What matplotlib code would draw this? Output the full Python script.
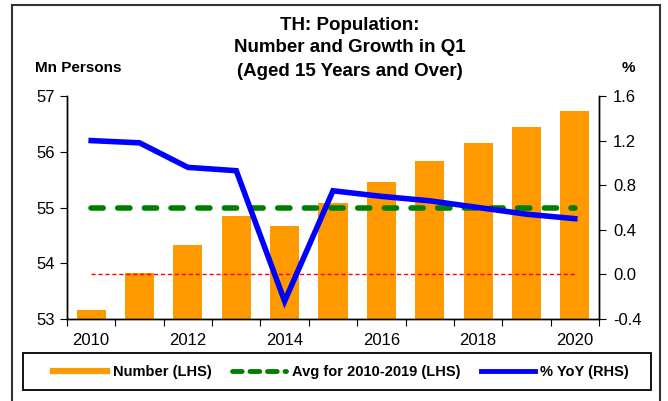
import numpy as np
import matplotlib.pyplot as plt
from matplotlib.lines import Line2D
from matplotlib.patches import Rectangle

plt.rcParams['font.family'] = ['Liberation Sans', 'DejaVu Sans']

years = list(range(2010, 2021))
number = [53.17, 53.82, 54.33, 54.84, 54.67, 55.08, 55.45, 55.83, 56.15, 56.44, 56.73]
avg_2010_2019 = 55.0
yoy = [1.20, 1.18, 0.96, 0.93, -0.24, 0.75, 0.70, 0.66, 0.60, 0.54, 0.50]
tick_years = [2010, 2012, 2014, 2016, 2018, 2020]

W, H = 668, 401
fig = plt.figure(figsize=(W / 100, H / 100), dpi=100)
ax = fig.add_axes([67 / W, 1 - 319 / H, 532 / W, 223 / H])
ax2 = ax.twinx()

x = np.arange(len(years))
ax.bar(x, np.array(number) - 53, bottom=53, width=0.6, color='#FF9900', zorder=2)
ax.plot([x[0], x[-1]], [avg_2010_2019] * 2, color='#008000', lw=4,
        dashes=(2.2, 2.6), dash_capstyle='round', zorder=3)

ax2.plot([x[0], x[-1]], [0, 0], color='#FF0000', lw=1, dashes=(3, 2))
ax2.plot(x, yoy, color='#0000FF', lw=4, solid_joinstyle='miter')

ax.set_xlim(-0.5, len(years) - 0.5)
ax.set_ylim(53, 57)
ax.set_yticks([53, 54, 55, 56, 57])
ax2.set_ylim(-0.4, 1.6)
rhs_ticks = [-0.4, 0.0, 0.4, 0.8, 1.2, 1.6]
ax2.set_yticks(rhs_ticks)
ax2.set_yticklabels(['%.1f' % v for v in rhs_ticks])

ax.set_xticks(np.arange(-0.5, len(years), 1))
ax.set_xticklabels([])
ax.set_xticks([years.index(y) for y in tick_years], minor=True)
ax.set_xticklabels([str(y) for y in tick_years], minor=True)
ax.tick_params(axis='x', which='minor', length=0, labelsize=12, pad=10)
ax.tick_params(axis='x', which='major', length=5, direction='out')
ax.tick_params(axis='y', labelsize=12, length=5, direction='out', pad=4)
ax2.tick_params(axis='y', labelsize=12, length=5, direction='out', pad=5)

for a in (ax, ax2):
    a.spines['top'].set_visible(False)
    for s in ('left', 'right', 'bottom'):
        a.spines[s].set_linewidth(1)
        a.spines[s].set_color('black')

title_lines = ['TH: Population:', 'Number and Growth in Q1', '(Aged 15 Years and Over)']
for line, yc in zip(title_lines, [25, 48, 71]):
    fig.text(350 / W, 1 - yc / H, line, ha='center', va='center',
             fontsize=13.5, fontweight='bold')
fig.text(35 / W, 1 - 68 / H, 'Mn Persons', ha='left', va='center',
         fontsize=11, fontweight='bold')
fig.text(628 / W, 1 - 68 / H, '%', ha='center', va='center',
         fontsize=11, fontweight='bold')

# legend box drawn separately so its size matches the reference
fig.patches.append(Rectangle((23 / W, 1 - 390 / H), 628 / W, 37 / H,
                             transform=fig.transFigure, fill=False,
                             edgecolor='black', lw=1.3, zorder=5))
handles = [
    Line2D([], [], color='#FF9900', lw=4.5),
    Line2D([], [], color='#008000', lw=3.5, dashes=(2.0, 1.6), dash_capstyle='round'),
    Line2D([], [], color='#0000FF', lw=3.5),
]
labels = ['Number (LHS)', 'Avg for 2010-2019 (LHS)', '% YoY (RHS)']
fig.legend(handles, labels, loc='center', ncol=3,
           bbox_to_anchor=(341 / W, 1 - 372 / H),
           prop={'weight': 'bold', 'size': 10.5}, handlelength=3.7,
           columnspacing=1.4, handletextpad=0.4, frameon=False)

# outer chart border
fig.patches.append(Rectangle((12.5 / W, -5 / H), 647.5 / W, 401 / H,
                             transform=fig.transFigure, fill=False,
                             edgecolor='#333333', lw=1.5))

fig.savefig('out.png', dpi=100)
